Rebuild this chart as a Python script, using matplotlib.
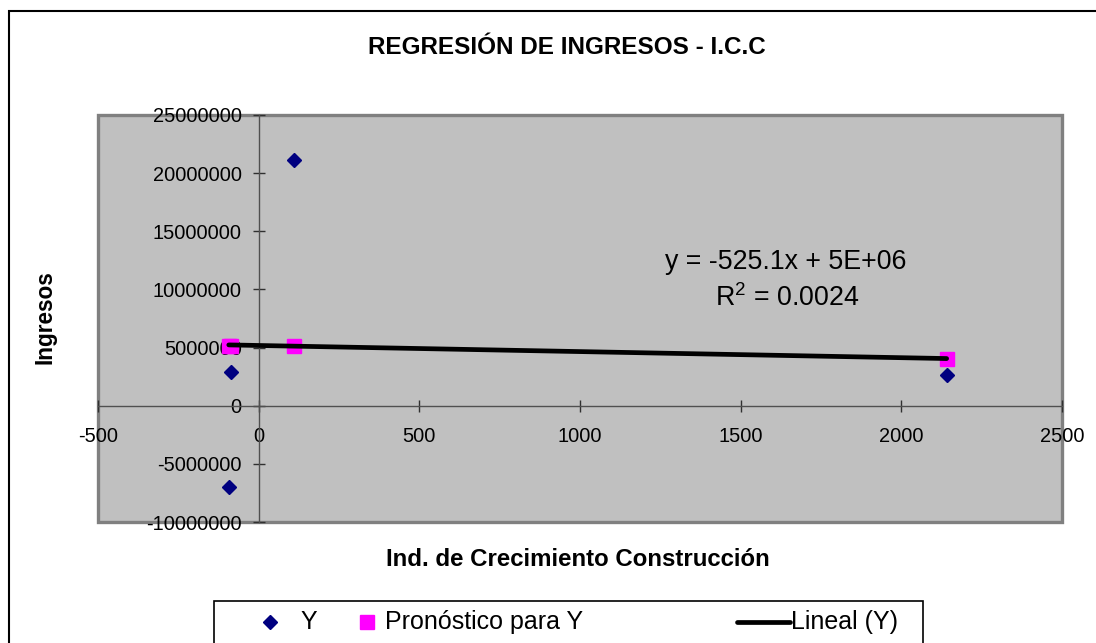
import matplotlib

matplotlib.use("Agg")
import matplotlib.pyplot as plt
from matplotlib.lines import Line2D
from matplotlib.patches import Rectangle
from matplotlib.ticker import MultipleLocator, StrMethodFormatter

plt.rcParams["font.family"] = ["Liberation Sans", "DejaVu Sans"]
plt.rcParams["axes.unicode_minus"] = False
plt.rcParams["mathtext.fontset"] = "custom"
plt.rcParams["mathtext.rm"] = "Liberation Sans"
plt.rcParams["mathtext.default"] = "regular"

# indice de crecimiento de la construccion vs ingresos
X_ICC = [-87, -93, 110, 2141]
Y_INGRESOS = [2.87e6, -6.97e6, 21.13e6, 2.61e6]
Y_PRONOSTICO = [5.16e6, 5.16e6, 5.13e6, 4.06e6]

# tendencia lineal
PENDIENTE = -525.1
INTERCEPTO = 5.18e6
R2 = 0.0024

W, H = 1096, 643


def fx(px):
    return px / W


def fy(py):
    return 1 - py / H


fig = plt.figure(figsize=(W / 100, H / 100), dpi=100)
fig.patch.set_facecolor("white")

# marco del grafico
fig.patches.append(Rectangle((fx(9), fy(660)), fx(1120) - fx(9), fy(11) - fy(660),
                             transform=fig.transFigure, fill=False,
                             edgecolor="black", lw=1.5, zorder=0))

ax = fig.add_axes([fx(98), fy(522), fx(1062) - fx(98), fy(115) - fy(522)])
ax.set_facecolor("#C0C0C0")
ax.set_xlim(-500, 2500)
ax.set_ylim(-10e6, 25e6)

for s in ("top", "right"):
    ax.spines[s].set_visible(False)
ax.spines["left"].set_position(("data", 0))
ax.spines["bottom"].set_position(("data", 0))
for s in ("left", "bottom"):
    ax.spines[s].set_color("#505050")
    ax.spines[s].set_linewidth(1.0)
ax.add_patch(Rectangle((0, 0), 1, 1, transform=ax.transAxes, fill=False,
                       edgecolor="#808080", lw=2.4, zorder=1, clip_on=False))

ax.xaxis.set_major_locator(MultipleLocator(500))
ax.yaxis.set_major_locator(MultipleLocator(5e6))
ax.xaxis.set_major_formatter(StrMethodFormatter("{x:.0f}"))
ax.yaxis.set_major_formatter(StrMethodFormatter("{x:.0f}"))
ax.tick_params(direction="inout", length=8.5, width=1.0, color="#303030",
               labelsize=14.4)
ax.tick_params(axis="x", pad=11)
ax.tick_params(axis="y", pad=8)

ax.plot(X_ICC, Y_PRONOSTICO, ls="none", marker="s", ms=10.5,
        color="#FF00FF", zorder=3)
x0, x1 = min(X_ICC), max(X_ICC)
ax.plot([x0, x1], [PENDIENTE * x0 + INTERCEPTO, PENDIENTE * x1 + INTERCEPTO],
        color="black", lw=3.4, solid_capstyle="round", zorder=4)
ax.plot(X_ICC, Y_INGRESOS, ls="none", marker="D", ms=7.6,
        color="#000080", zorder=4)

# ecuacion de la tendencia
ax.text(1641, 12.36e6, f"y = {PENDIENTE}x + {INTERCEPTO:.0E}", ha="center",
        va="center", fontsize=19.3)
ax.text(1644, 9.25e6, f"R$^{{2}}$ = {R2}", ha="center", va="center",
        fontsize=19.3)

fig.text(fx(567), fy(48), "REGRESIÓN DE INGRESOS - I.C.C", ha="center",
         va="center", fontsize=17.5, fontweight="bold")
fig.text(fx(578), fy(560), "Ind. de Crecimiento Construcción", ha="center",
         va="center", fontsize=17.3, fontweight="bold")
fig.text(fx(45), fy(317), "Ingresos", ha="center", va="center",
         rotation=90, fontsize=16.3, fontweight="bold")

# leyenda
fig.patches.append(Rectangle((fx(214), fy(660)), fx(923) - fx(214), fy(601) - fy(660),
                             transform=fig.transFigure, fill=False,
                             edgecolor="black", lw=1.2))
ly = fy(622)
fig.lines.append(Line2D([fx(270)], [ly], transform=fig.transFigure, ls="none",
                        marker="D", ms=7.6, color="#000080"))
fig.text(fx(300), ly, "Y", va="center", fontsize=18)
fig.lines.append(Line2D([fx(367)], [ly], transform=fig.transFigure, ls="none",
                        marker="s", ms=10.5, color="#FF00FF"))
fig.text(fx(385), ly, "Pronóstico para Y", va="center", fontsize=18)
fig.lines.append(Line2D([fx(737), fx(790)], [ly, ly], transform=fig.transFigure,
                        color="black", lw=3.4, solid_capstyle="round"))
fig.text(fx(791), ly, "Lineal (Y)", va="center", fontsize=18)

fig.savefig("out.png", dpi=100)
